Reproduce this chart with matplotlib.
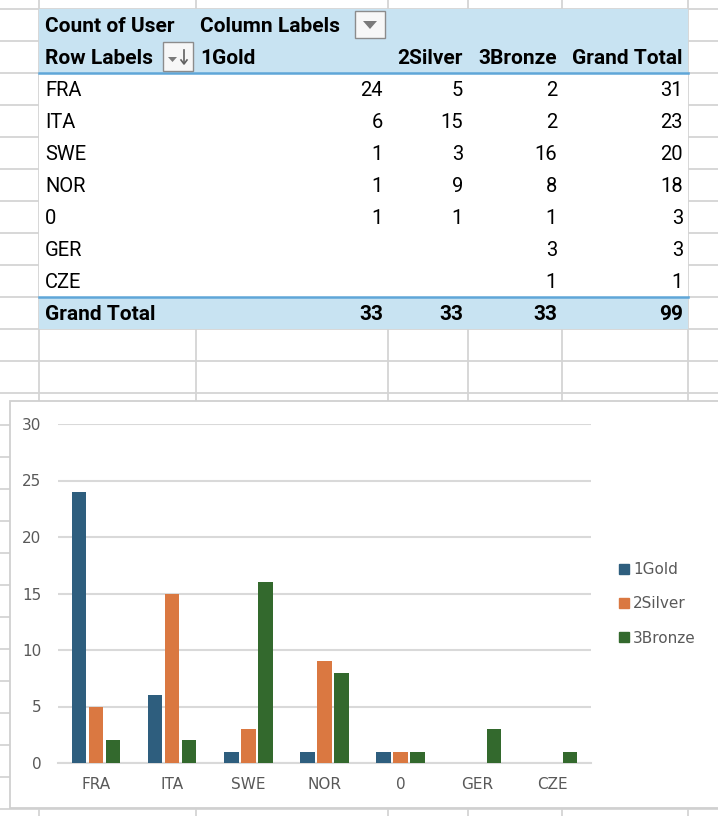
import numpy as np
import matplotlib.pyplot as plt
from matplotlib.patches import Rectangle, Polygon
from matplotlib.lines import Line2D

# pivot data
countries = ['FRA', 'ITA', 'SWE', 'NOR', '0', 'GER', 'CZE']
medals = ['1Gold', '2Silver', '3Bronze']
gold = [24, 6, 1, 1, 1, None, None]
silver = [5, 15, 3, 9, 1, None, None]
bronze = [2, 2, 16, 8, 1, 3, 1]
series = [gold, silver, bronze]
colors = ['#2E5E7E', '#DA7841', '#33692D']

W, H = 718, 816
fig = plt.figure(figsize=(W / 100, H / 100), dpi=100)
bg = fig.add_axes([0, 0, 1, 1])
bg.set_xlim(0, W)
bg.set_ylim(H, 0)
bg.axis('off')

grid_c = '#D4D4D4'
col_x = [39, 196, 388, 468, 562, 688]
row_h = 32
row_y = [9 + i * row_h for i in range(26)]
for x in col_x:
    bg.plot([x, x], [0, H], color=grid_c, lw=1.3, zorder=1)
for y in row_y:
    bg.plot([0, W], [y, y], color=grid_c, lw=1.3, zorder=1)

# pivot table
hdr_fill = '#C8E3F2'
blue_line = '#5FA6D8'
n = len(countries)
top, hdr_bot = 9, 73
body_bot = hdr_bot + n * row_h
tot_bot = body_bot + row_h
bg.add_patch(Rectangle((39, top), 649, hdr_bot - top, fc=hdr_fill, ec='none', zorder=2))
bg.add_patch(Rectangle((39, hdr_bot), 649, body_bot - hdr_bot, fc='white', ec='none', zorder=2))
bg.add_patch(Rectangle((39, body_bot), 649, row_h, fc=hdr_fill, ec='none', zorder=2))
bg.plot([39, 688], [hdr_bot, hdr_bot], color=blue_line, lw=1.8, zorder=3)
bg.plot([39, 688], [body_bot, body_bot], color=blue_line, lw=1.8, zorder=3)

fam = ['Roboto', 'DejaVu Sans']
fs = 14.5
fb = 15
right_x = [383, 463, 557, 683]
bg.text(45, 26, 'Count of User', fontsize=fb, fontweight='bold', family=fam, va='center', zorder=4)
bg.text(200, 26, 'Column Labels', fontsize=fb, fontweight='bold', family=fam, va='center', zorder=4)
bg.text(45, 59, 'Row Labels', fontsize=fb, fontweight='bold', family=fam, va='center', zorder=4)
bg.text(200, 59, medals[0], fontsize=fb, fontweight='bold', family=fam, va='center', zorder=4)
for lab, rx in zip(medals[1:] + ['Grand Total'], right_x[1:]):
    bg.text(rx, 59, lab, fontsize=fb, fontweight='bold', family=fam, va='center', ha='right', zorder=4)

# dropdown buttons
bg.add_patch(Rectangle((355, 11), 30, 27, fc='#F7F7F7', ec='#8C8C8C', lw=1, zorder=4))
bg.add_patch(Polygon([[363, 21], [377, 21], [370, 29]], fc='#7A7A7A', ec='none', zorder=5))
bg.add_patch(Rectangle((163, 42), 30, 29, fc='#F7F7F7', ec='#8C8C8C', lw=1, zorder=4))
bg.add_patch(Polygon([[168, 57], [177, 57], [172.5, 62]], fc='#7A7A7A', ec='none', zorder=5))
bg.plot([184, 184], [50, 63], color='#606060', lw=1.2, zorder=5)
bg.plot([181, 184, 187], [60, 64, 60], color='#606060', lw=1.2, zorder=5)

totals = []
for i, c in enumerate(countries):
    y = hdr_bot + i * row_h + row_h / 2 + 2
    bg.text(45, y, c, fontsize=fs, family=fam, va='center', zorder=4)
    vals = [s[i] for s in series]
    t = sum(v for v in vals if v is not None)
    totals.append(t)
    for v, rx in zip(vals + [t], right_x):
        if v is not None:
            bg.text(rx, y, str(v), fontsize=fs, family=fam, va='center', ha='right', zorder=4)
yt = body_bot + row_h / 2 + 2
bg.text(45, yt, 'Grand Total', fontsize=fb, fontweight='bold', family=fam, va='center', zorder=4)
col_tot = [sum(v for v in s if v is not None) for s in series]
for v, rx in zip(col_tot + [sum(totals)], right_x):
    bg.text(rx, yt, str(v), fontsize=fb, fontweight='bold', family=fam, va='center', ha='right', zorder=4)

# chart box
bg.add_patch(Rectangle((10, 401), 740, 407, fc='white', ec='#D0D0D0', lw=1.3, zorder=6))

# chart
ax = fig.add_axes([58 / W, (H - 763) / H, (591 - 58) / W, (763 - 424) / H])
ax.set_facecolor('none')
x = np.arange(n)
off = 0.223
for k, (s, col, lab) in enumerate(zip(series, colors, medals)):
    vals = np.array([np.nan if v is None else v for v in s], dtype=float)
    ax.bar(x + (k - 1) * off, vals, width=0.19, color=col, label=lab, zorder=3)
ax.set_xlim(-0.5, n - 0.5)
ax.set_ylim(0, 30)
ax.set_yticks(range(0, 31, 5))
ax.grid(axis='y', color='#D9D9D9', lw=1.5, zorder=0)
ax.set_axisbelow(True)
for sp in ['top', 'right', 'left']:
    ax.spines[sp].set_visible(False)
ax.spines['bottom'].set_color('#D9D9D9')
ax.spines['bottom'].set_linewidth(1.5)
ax.set_xticks(x)
ax.set_xticklabels(countries)
ax.tick_params(length=0, colors='#595959', labelsize=11)
ax.tick_params(axis='y', pad=12)
ax.tick_params(axis='x', pad=10)

handles = [Line2D([], [], marker='s', ls='', color=c, markersize=7) for c in colors]
fig.legend(handles, medals, loc='center left', bbox_to_anchor=(604 / W, (H - 604) / H),
           frameon=False, fontsize=11, labelspacing=1.25, handlelength=0.8,
           handletextpad=0.2, labelcolor='#595959')

fig.savefig('out.png', dpi=100)
